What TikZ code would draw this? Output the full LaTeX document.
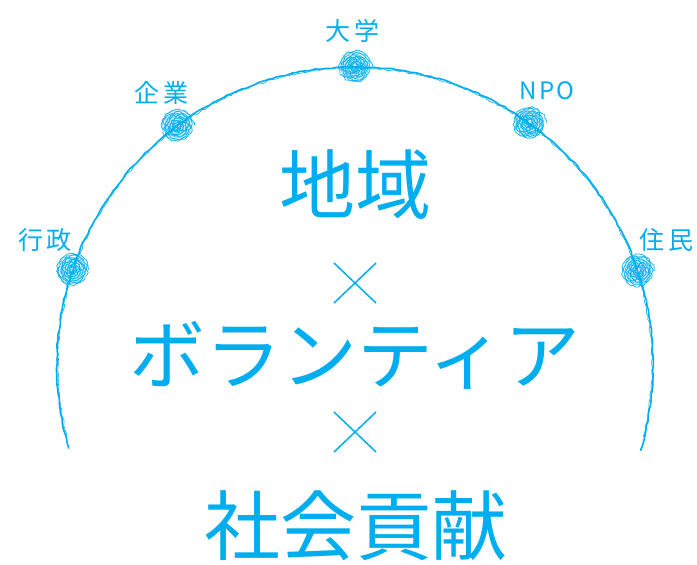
\documentclass[tikz,border=0pt]{standalone}
\usepackage{fontspec}
\newfontfamily\jp{Noto Sans CJK JP}
\usetikzlibrary{decorations.pathmorphing,calc}
\definecolor{sky}{RGB}{0,174,239}
\begin{document}
\begin{tikzpicture}[x=1pt,y=-1pt,
  arcline/.style={draw=sky,line width=1.6pt,line cap=round,
    decorate,decoration={random steps,segment length=5pt,amplitude=0.7pt}},
  scribble/.style={circle,minimum size=32pt,inner sep=0pt},
  lab/.style={font=\jp\fontsize{25}{25}\selectfont,text=sky,inner sep=0pt},
  big/.style={font=\jp\fontsize{76}{76}\selectfont,text=sky,inner sep=0pt},
  crossline/.style={draw=sky,line width=1.5pt}]
\useasboundingbox (0,0) rectangle (697,565);
\pgfmathsetseed{7}
\coordinate (c) at (355,365);
% arc
\draw[arcline] (c) ++(163.8:298) arc[start angle=163.8,end angle=376.6,radius=298];
\draw[draw=sky,line width=0.6pt,decorate,decoration={random steps,segment length=3pt,amplitude=0.9pt}]
  (c) ++(166:297) arc[start angle=166,end angle=374,radius=297];
% scribble nodes
\foreach \nm/\ang in {gy/198.6,kg/233.4,dg/270,npo/305.8,jm/341.6}{
  \node[scribble] (\nm) at ($(c)+(\ang:298)$) {};
  \fill[sky,opacity=0.2] (\nm) circle[radius=13pt];
  \draw[sky,line width=0.8pt,opacity=0.9,shift={(\nm)}] plot[domain=0:7,samples=260,smooth]
    ({(2+2.1*\x+1.2*rand)*cos(\x*360)},{(2+2.1*\x+1.2*rand)*sin(\x*360)});
  \draw[sky,line width=0.5pt,opacity=0.8,shift={(\nm)},rotate=40] plot[domain=0:5,samples=160,smooth]
    ({(3+2.5*\x+1*rand)*cos(\x*360)},{(3+2.5*\x+1*rand)*sin(\x*360)});
}
% labels
\node[lab] (lgy) at (45,240) {行\hspace{4pt}政};
\node[lab] (lkg) at (161,93) {企\hspace{4pt}業};
\node[lab] (ldg) at (352,31) {大\hspace{4pt}学};
\node[lab,font=\jp\fontsize{24}{24}\selectfont] (lnpo) at (547,91) {N\hspace{2pt}P\hspace{2pt}O};
\node[lab] (ljm) at (666,240) {住\hspace{4pt}民};
% main text
\node[big] (t1) at (355,185) {地域};
\node[big] (t2) at (355,355) {ボランティア};
\node[big] (t3) at (356,526) {社会貢献};
% crosses
\coordinate (x1) at (355,283);
\coordinate (x2) at (355,432);
\foreach \p in {x1,x2}{
  \draw[crossline] ($(\p)+(-21,-20)$) -- ($(\p)+(21,20)$);
  \draw[crossline] ($(\p)+(-21,20)$) -- ($(\p)+(21,-20)$);
}
\end{tikzpicture}
\end{document}
